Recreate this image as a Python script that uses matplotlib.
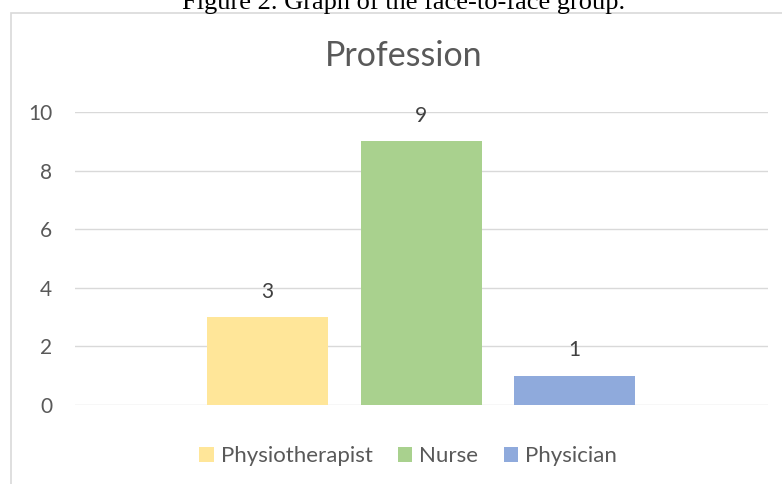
import matplotlib.pyplot as plt
from matplotlib.patches import Rectangle

professions = ['Physiotherapist', 'Nurse', 'Physician']
counts = [3, 9, 1]
colors = ['#FFE699', '#A9D18E', '#8FAADC']
yticks = [0, 2, 4, 6, 8, 10]

plt.rcParams['font.family'] = ['Lato', 'DejaVu Sans']

fig = plt.figure(figsize=(7.82, 4.84), dpi=100)

# chart border (cut off at right and bottom)
fig.patches.append(Rectangle((11/782, -0.1), 1.0, (484-13)/484 + 0.1,
                             transform=fig.transFigure, fill=False,
                             edgecolor='#D9D9D9', lw=1.2))

fig.text(404/782, 1 - 8.5/484, 'Figure 2. Graph of the face-to-face group.',
         family='Liberation Serif', fontsize=19, ha='center', va='baseline',
         color='black')

ax = fig.add_axes([75/782, 79/484, 693/782, 293/484])
x = list(range(len(professions)))
bars = ax.bar(x, counts, width=0.788, color=colors)
for b, lab in zip(bars, professions):
    b.set_label(lab)

for xi, v in zip(x, counts):
    ax.annotate(str(v), (xi, v), xytext=(0, 11), textcoords='offset points',
                ha='center', va='bottom', fontsize=15, color='#404040')

ax.set_xlim(-1.254, 3.26)
ax.set_ylim(0, 10)
ax.set_yticks(yticks)
ax.set_xticks([])
ax.grid(axis='y', color='#D9D9D9', lw=1)
ax.set_axisbelow(True)
for s in ax.spines.values():
    s.set_visible(False)
ax.tick_params(axis='y', length=0, pad=16.5, labelsize=15, labelcolor='#595959')

fig.text(404/782, 1 - 56/484, 'Profession', fontsize=24.5, color='#595959',
         ha='center', va='center')

fig.legend(loc='center', bbox_to_anchor=(408/782, 1 - 456/484), ncol=3,
           frameon=False, fontsize=16, labelcolor='#595959',
           handlelength=0.65, handleheight=0.65, handletextpad=0.3,
           columnspacing=1.15)

fig.savefig('out.png', dpi=100)
